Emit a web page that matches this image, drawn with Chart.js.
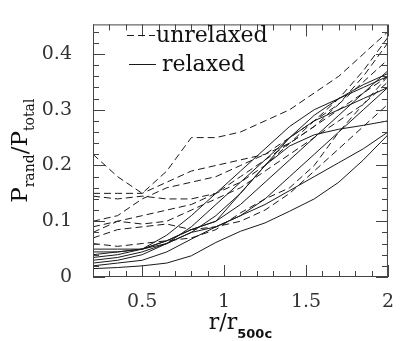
<!DOCTYPE html>
<html>
<head>
<meta charset="utf-8">
<script src="https://cdn.jsdelivr.net/npm/chart.js@4"></script>
<style>
  body { margin: 0; background: #fff; }
  canvas { display: block; }
</style>
</head>
<body>
<canvas id="c" width="400" height="341"></canvas>
<script>
// radius grid shared by all curves (r / r500c)
var xs = [0.2, 0.35, 0.5, 0.65, 0.8, 0.95, 1.1, 1.25, 1.4, 1.55, 1.7, 1.85, 2.0]

// relaxed clusters (solid)
var relaxed1 = [0.015, 0.017, 0.020, 0.025, 0.038, 0.062, 0.082, 0.097, 0.118, 0.140, 0.170, 0.210, 0.255]
var relaxed2 = [0.020, 0.025, 0.030, 0.045, 0.068, 0.090, 0.110, 0.130, 0.155, 0.180, 0.205, 0.230, 0.260]
var relaxed3 = [0.040, 0.045, 0.050, 0.065, 0.085, 0.100, 0.150, 0.200, 0.235, 0.255, 0.265, 0.272, 0.280]
var relaxed4 = [0.050, 0.050, 0.050, 0.075, 0.110, 0.150, 0.190, 0.230, 0.270, 0.300, 0.320, 0.340, 0.360]
var relaxed5 = [0.030, 0.035, 0.045, 0.060, 0.080, 0.110, 0.150, 0.200, 0.250, 0.290, 0.320, 0.345, 0.365]
var relaxed6 = [0.035, 0.040, 0.050, 0.065, 0.085, 0.100, 0.130, 0.170, 0.210, 0.250, 0.290, 0.330, 0.370]
var relaxed7 = [0.045, 0.045, 0.050, 0.060, 0.080, 0.090, 0.110, 0.140, 0.180, 0.220, 0.260, 0.300, 0.340]
var relaxed8 = [0.025, 0.030, 0.040, 0.060, 0.090, 0.130, 0.170, 0.210, 0.250, 0.280, 0.300, 0.320, 0.340]

// unrelaxed clusters (dashed)
var unrelaxed1 = [0.220, 0.180, 0.150, 0.190, 0.250, 0.250, 0.260, 0.280, 0.300, 0.330, 0.360, 0.400, 0.440]
var unrelaxed2 = [0.150, 0.150, 0.150, 0.170, 0.190, 0.200, 0.210, 0.220, 0.240, 0.270, 0.310, 0.360, 0.420]
var unrelaxed3 = [0.145, 0.140, 0.145, 0.140, 0.140, 0.150, 0.170, 0.200, 0.240, 0.280, 0.320, 0.370, 0.430]
var unrelaxed4 = [0.100, 0.110, 0.140, 0.160, 0.170, 0.180, 0.200, 0.220, 0.250, 0.280, 0.310, 0.350, 0.390]
var unrelaxed5 = [0.090, 0.100, 0.110, 0.120, 0.130, 0.150, 0.180, 0.210, 0.240, 0.270, 0.300, 0.330, 0.360]
var unrelaxed6 = [0.080, 0.100, 0.095, 0.100, 0.120, 0.140, 0.160, 0.190, 0.220, 0.250, 0.280, 0.310, 0.350]
var unrelaxed7 = [0.070, 0.085, 0.090, 0.095, 0.085, 0.090, 0.100, 0.120, 0.150, 0.190, 0.230, 0.270, 0.310]
var unrelaxed8 = [0.060, 0.055, 0.060, 0.065, 0.070, 0.085, 0.115, 0.140, 0.160, 0.200, 0.260, 0.310, 0.360]

var xTicks = [0.5, 1, 1.5, 2]
var yTicks = [0, 0.1, 0.2, 0.3, 0.4]

var relaxed = [relaxed1, relaxed2, relaxed3, relaxed4, relaxed5, relaxed6, relaxed7, relaxed8]
var unrelaxed = [unrelaxed1, unrelaxed2, unrelaxed3, unrelaxed4, unrelaxed5, unrelaxed6, unrelaxed7, unrelaxed8]

var ink = '#1a1a1a'
var dash = [7, 4]
var serif = '"DejaVu Serif"'

function toPoints(arr){
  return xs.map(function(x, i){ return {x: x, y: arr[i]} })
}

var datasets = []
unrelaxed.forEach(function(s){
  datasets.push({data: toPoints(s), borderColor: ink, borderWidth: 1, borderDash: dash, pointRadius: 0, tension: 0})
})
relaxed.forEach(function(s){
  datasets.push({data: toPoints(s), borderColor: ink, borderWidth: 1, pointRadius: 0, tension: 0})
})

function line(ctx, x1, y1, x2, y2){
  ctx.beginPath(); ctx.moveTo(x1, y1); ctx.lineTo(x2, y2); ctx.stroke()
}

// text pieces: [text, isSubscript]
function richWidth(ctx, parts, big, small){
  var w = 0
  parts.forEach(function(p){ ctx.font = p[1] ? small : big; w += ctx.measureText(p[0]).width })
  return w
}
function richDraw(ctx, parts, x, y, big, small, drop){
  parts.forEach(function(p){
    ctx.font = p[1] ? small : big
    ctx.fillText(p[0], x, p[1] ? y + drop : y)
    x += ctx.measureText(p[0]).width
  })
}

var decor = {
  id: 'decor',
  afterDatasetsDraw: function(chart){
    var ctx = chart.ctx, a = chart.chartArea, sx = chart.scales.x, sy = chart.scales.y
    ctx.save()
    ctx.strokeStyle = '#444'
    ctx.lineWidth = 1
    ctx.strokeRect(a.left + 0.5, a.top + 0.5, a.right - a.left - 1, a.bottom - a.top - 1)
    // inward ticks, all four sides
    for (var i = 2; i <= 20; i++){
      var px = Math.round(sx.getPixelForValue(i / 10)) + 0.5
      var L = (i % 5 === 0) ? 12 : 6
      line(ctx, px, a.bottom, px, a.bottom - L)
      line(ctx, px, a.top, px, a.top + L)
    }
    for (var j = 0; j <= 22; j++){
      var py = Math.round(sy.getPixelForValue(j * 0.02)) + 0.5
      var M = (j % 5 === 0) ? 12 : 6
      line(ctx, a.left, py, a.left + M, py)
      line(ctx, a.right, py, a.right - M, py)
    }

    // legend
    ctx.strokeStyle = ink
    ctx.setLineDash(dash)
    line(ctx, 127, 35.5, 155, 35.5)
    ctx.setLineDash([])
    line(ctx, 129, 64.5, 156, 64.5)
    ctx.fillStyle = '#111'
    ctx.font = '22px ' + serif
    ctx.textBaseline = 'alphabetic'
    ctx.fillText('unrelaxed', 156, 42)
    ctx.fillText('relaxed', 162, 71)

    // x title
    var xt = [['r/r', false], ['500c', true]]
    var big = '22px ' + serif, small = 'bold 13px "DejaVu Sans"'
    var w = richWidth(ctx, xt, big, small)
    richDraw(ctx, xt, (a.left + a.right) / 2 - w / 2, 329, big, small, 9)

    // y title
    var yt = [['P', false], ['rand', true], ['/P', false], ['total', true]]
    big = '23px ' + serif
    small = '14px ' + serif
    ctx.translate(27, (a.top + a.bottom) / 2)
    ctx.rotate(-Math.PI / 2)
    w = richWidth(ctx, yt, big, small)
    richDraw(ctx, yt, -w / 2, 0, big, small, 7)
    ctx.restore()
  }
}

var chart = new Chart(document.getElementById('c').getContext('2d'), {
  type: 'line',
  data: {datasets: datasets},
  options: {
    responsive: false,
    animation: false,
    devicePixelRatio: 1,
    layout: {padding: {top: 5, right: 5, left: 0, bottom: 0}},
    plugins: {legend: {display: false}, tooltip: {enabled: false}},
    scales: {
      x: {
        type: 'linear', min: 0.2, max: 2,
        grid: {display: false},
        border: {display: false},
        afterBuildTicks: function(s){ s.ticks = xTicks.map(function(v){ return {value: v} }) },
        afterFit: function(s){ s.height = 64 },
        ticks: {color: '#333', font: {family: 'DejaVu Serif', size: 19}, padding: 6, maxRotation: 0,
          callback: function(v){ return String(v) }}
      },
      y: {
        type: 'linear', min: 0, max: 0.453,
        grid: {display: false},
        border: {display: false},
        afterBuildTicks: function(s){ s.ticks = yTicks.map(function(v){ return {value: v} }) },
        afterFit: function(s){ s.width = 93 },
        ticks: {color: '#333', font: {family: 'DejaVu Serif', size: 19}, padding: 13,
          callback: function(v){ return String(v) }}
      }
    }
  },
  plugins: [decor]
})
</script>
</body>
</html>
